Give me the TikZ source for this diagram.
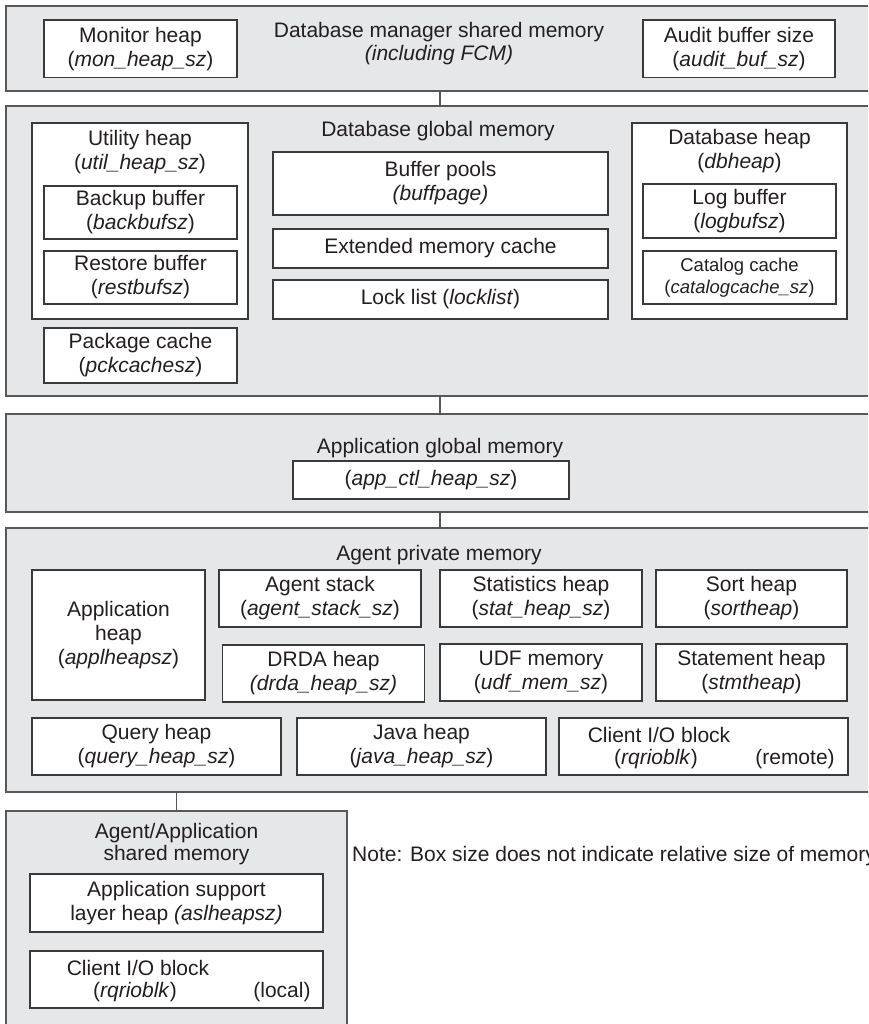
\documentclass[tikz,border=0pt]{standalone}
\usepackage{fontspec}
\setmainfont{Liberation Sans}
\definecolor{regionfill}{HTML}{E6E7E8}
\definecolor{regionline}{HTML}{585858}
\definecolor{cellline}{HTML}{3A3A3A}
\definecolor{ink}{HTML}{231F20}
\newcommand\diagfont{\fontsize{21}{24}\selectfont}
\newcommand\titlefont{\fontsize{21}{22.5}\selectfont}
\newcommand\smallfont{\fontsize{18.5}{21.5}\selectfont}
\begin{document}
\begin{tikzpicture}[x=1pt,y=-1pt,
  region/.style={draw=regionline, fill=regionfill, line width=1.4pt, inner sep=0pt},
  cell/.style={draw=cellline, fill=white, line width=1.1pt, inner sep=0pt,
               align=center, text=ink, font=\diagfont},
  txt/.style={inner sep=0pt, align=center, text=ink, font=\diagfont},
  wire/.style={draw=regionline, line width=1.1pt}]
\useasboundingbox (0,0) rectangle (868,1024);
\fill[white] (0,0) rectangle (868,1024);
\clip (0,0) rectangle (868,1024);

% ---------- Database manager shared memory ----------
\node[region, minimum width=868pt, minimum height=85pt] (dbm) at (440,48.5) {};
\node[txt, font=\titlefont] (dbmtitle) at (439,43.5) {Database manager shared memory\\\textit{(including FCM)}};
\node[cell, minimum width=193pt, minimum height=57.5pt] (mon) at (140.5,48.75)
  {Monitor heap\\(\textit{mon\_heap\_sz})};
\node[cell, minimum width=192pt, minimum height=57.5pt] (audit) at (739,48.75)
  {Audit buffer size\\(\textit{audit\_buf\_sz})};

% ---------- Database global memory ----------
\node[region, minimum width=868pt, minimum height=290pt] (dbg) at (440,251) {};
\node[txt] (dbgtitle) at (438,131) {Database global memory};
\node[cell, minimum width=216pt, minimum height=196pt] (util) at (140,221) {};
\node[txt] (utiltitle) at (140,152) {Utility heap\\(\textit{util\_heap\_sz})};
\node[cell, minimum width=193pt, minimum height=53pt] (backup) at (140.5,212.5)
  {Backup buffer\\(\textit{backbufsz})};
\node[cell, minimum width=193pt, minimum height=53pt] (restore) at (140.5,277.5)
  {Restore buffer\\(\textit{restbufsz})};
\node[cell, minimum width=193pt, minimum height=55pt] (package) at (140.5,355.5)
  {Package cache\\(\textit{pckcachesz})};
\node[cell, minimum width=335pt, minimum height=63pt] (bufpool) at (440.5,183.5)
  {Buffer pools\\\textit{(buffpage)}};
\node[cell, minimum width=335pt, minimum height=39pt] (extmem) at (440.5,248.5)
  {Extended memory cache};
\node[cell, minimum width=335pt, minimum height=39pt] (lock) at (440.5,299.5)
  {Lock list (\textit{locklist})};
\node[cell, minimum width=215pt, minimum height=196pt] (dbheap) at (739.5,221) {};
\node[txt] (dbheaptitle) at (739.5,151) {Database heap\\(\textit{dbheap})};
\node[cell, minimum width=193pt, minimum height=54pt] (logbuf) at (739.5,211)
  {Log buffer\\(\textit{logbufsz})};
\node[cell, minimum width=193pt, minimum height=53pt, font=\smallfont] (catalog) at (739.5,277.5)
  {Catalog cache\\(\textit{catalogcache\_sz})};

% ---------- Application global memory ----------
\node[region, minimum width=868pt, minimum height=98pt] (appg) at (440,463) {};
\node[txt] (appgtitle) at (440,448) {Application global memory};
\node[cell, minimum width=276pt, minimum height=38pt] (appctl) at (431,480)
  {(\textit{app\_ctl\_heap\_sz})};

% ---------- Agent private memory ----------
\node[region, minimum width=868pt, minimum height=264pt] (agent) at (440,660) {};
\node[txt] (agenttitle) at (439,555) {Agent private memory};
\node[cell, minimum width=173pt, minimum height=130pt] (applheap) at (118.5,635)
  {Application\\heap\\(\textit{applheapsz})};
\node[cell, minimum width=202pt, minimum height=57pt] (stack) at (320,598.5)
  {Agent stack\\(\textit{agent\_stack\_sz})};
\node[cell, minimum width=202pt, minimum height=57pt] (stat) at (541,598.5)
  {Statistics heap\\(\textit{stat\_heap\_sz})};
\node[cell, minimum width=191pt, minimum height=57pt] (sort) at (751.5,598.5)
  {Sort heap\\(\textit{sortheap})};
\node[cell, minimum width=202pt, minimum height=57pt] (drda) at (323.5,673.5)
  {DRDA heap\\\textit{(drda\_heap\_sz)}};
\node[cell, minimum width=202pt, minimum height=57pt] (udf) at (541,672.5)
  {UDF memory\\(\textit{udf\_mem\_sz})};
\node[cell, minimum width=191pt, minimum height=57pt] (stmt) at (751.5,672.5)
  {Statement heap\\(\textit{stmtheap})};
\node[cell, minimum width=249pt, minimum height=57pt] (query) at (156.5,746.5)
  {Query heap\\(\textit{query\_heap\_sz})};
\node[cell, minimum width=249pt, minimum height=57pt] (java) at (421.5,746.5)
  {Java heap\\(\textit{java\_heap\_sz})};
\node[cell, minimum width=289pt, minimum height=57pt] (remote) at (703.5,746.5) {};
\node[txt] (remoteA) at (659,735) {Client I/O block};
\node[txt] (remoteB) at (656,759) {(\textit{rqrioblk})};
\node[txt] (remoteC) at (795,759) {(remote)};

% ---------- Agent/Application shared memory ----------
\node[region, minimum width=341pt, minimum height=229pt] (shared) at (176.5,925.5) {};
\node[txt, font=\titlefont] (sharedtitle) at (176.5,844) {Agent/Application\\shared memory};
\node[cell, minimum width=293pt, minimum height=58pt] (asl) at (176.5,903)
  {Application support\\layer heap \textit{(aslheapsz)}};
\node[cell, minimum width=293pt, minimum height=57pt] (local) at (176.5,979.5) {};
\node[txt] (localA) at (138,968) {Client I/O block};
\node[txt] (localB) at (135,992) {(\textit{rqrioblk})};
\node[txt] (localC) at (282,992) {(local)};

\node[txt, anchor=west] (note) at (352,856)
  {Note: Box size does not indicate relative size of memory.};

% ---------- connectors ----------
\draw[wire] (dbm.south) -- (dbg.north);
\draw[wire] (dbg.south) -- (appg.north);
\draw[wire] (appg.south) -- (agent.north);
\draw[wire] (shared.north) -- (shared.north |- agent.south);
\end{tikzpicture}
\end{document}
